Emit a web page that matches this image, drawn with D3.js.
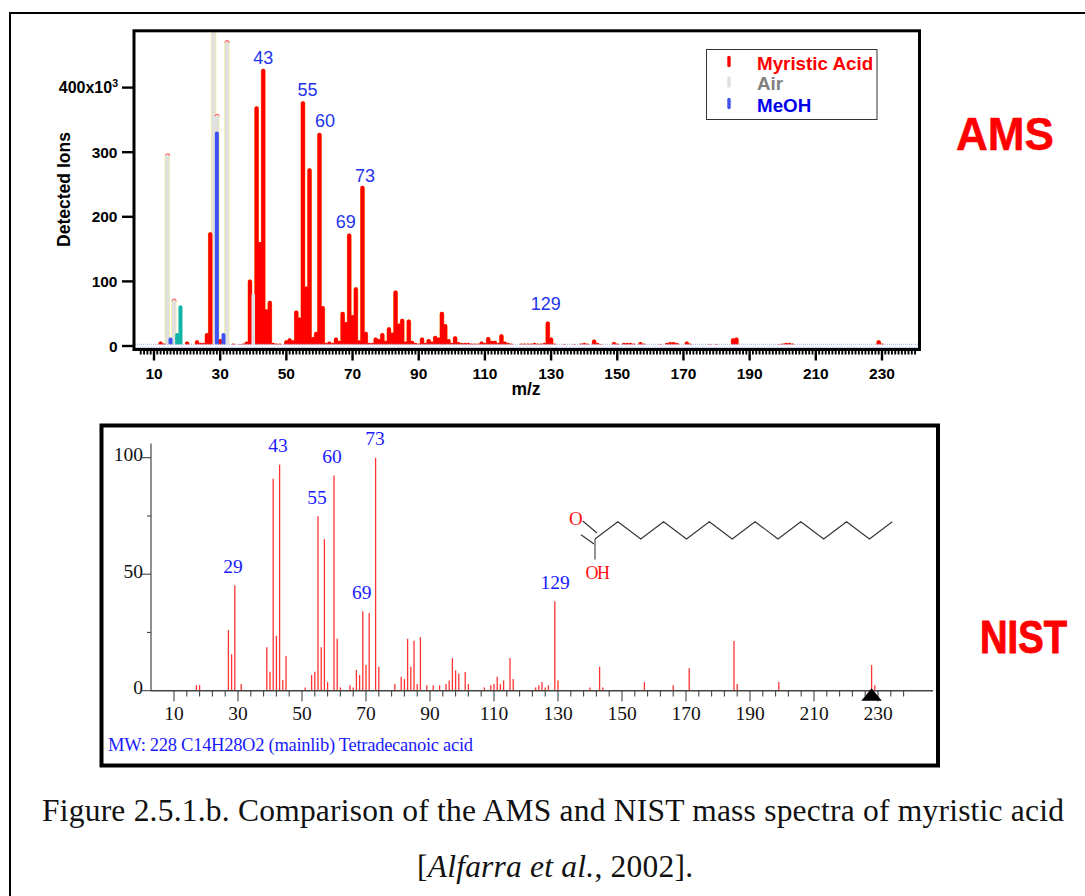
<!DOCTYPE html>
<html>
<head>
<meta charset="utf-8">
<script src="https://cdn.jsdelivr.net/npm/d3@7"></script>
<style>
  html, body { margin: 0; padding: 0; background: #fff; }
  svg { display: block; }
  .sans { font-family: "Liberation Sans", Arial, sans-serif; }
  .serif { font-family: "Liberation Serif", "Times New Roman", serif; }
</style>
</head>
<body>
<script>
// AMS spectrum, [m/z, detected ions]
const amsAcid = [[12,7],[13,4],[20,7],[23,9],[24,5],[25,5],[26,20],[27,176],[30,11],[34,4],[36,3],[37,4],[38,7],
  [39,103],[40,50],[41,371],[42,161],[43,429],[44,57],[45,70],[46,5],[47,4],[48,4],[50,9],[51,12],[52,9],[53,55],[54,44],
  [55,379],[56,92],[57,275],[58,14],[59,22],[60,330],[61,62],[62,5],[63,7],[64,5],[65,13],[66,8],[67,53],[68,37],[69,174],
  [70,48],[71,91],[72,9],[73,248],[74,22],[75,5],[76,5],[77,13],[78,11],[79,20],[80,8],[81,29],[82,21],[83,86],[84,35],
  [85,42],[86,7],[87,41],[88,8],[89,5],[90,4],[91,13],[92,5],[93,11],[94,7],[95,16],[96,13],[97,53],[98,34],[99,11],[100,5],
  [101,15],[102,6],[103,5],[104,5],[105,5],[106,4],[107,4],[108,4],[109,7],[110,5],[111,14],[112,8],[113,8],[114,5],[115,18],
  [116,7],[117,5],[118,4],[121,4],[122,4],[123,4],[124,4],[125,5],[126,4],[127,4],[128,5],[129,38],[130,13],[131,4],
  [134,3],[137,3],[139,4],[140,5],[141,4],[143,10],[144,5],[145,3],[149,6],[150,4],[152,5],[153,5],[154,5],[155,4],[157,6],[158,4],
  [163,3],[165,5],[166,6],[167,6],[168,5],[171,7],[172,4],[178,2],[180,2],[185,12],[186,13],[199,3],[200,4],[201,5],[202,5],[203,4],[229,9],[230,4]];
const amsAir = [[14,296],[16,71],[28,500],[29,357],[32,471],[40,80]];
const amsMeoh = [[15,13],[29,332],[31,20]];
const amsOther = [[17,20],[18,63]];
const amsPeaks = [43,55,60,69,73,129];
const amsYTicks = [0,100,200,300];
const legendNames = ["Myristic Acid","Air","MeOH"];

// NIST library spectrum, [m/z, relative intensity]
const nistBars = [[17,2.4],[18,2.4],[27,26],[28,15.6],[29,45.3],[31,2.9],[39,18.7],[40,8.1],[41,91],[42,23.6],[43,97],[44,4.6],
  [45,14.9],[51,1.4],[53,6.7],[54,8.1],[55,74.9],[56,18.7],[57,65],[58,3.7],[60,92.4],[61,22.3],[62,1.4],[65,2.3],[66,1.4],
  [67,8.9],[68,6.7],[69,34.1],[70,11],[71,33.3],[73,100],[74,10.3],[79,2.9],[81,6],[82,5],[83,22.3],[84,10.3],[85,21.4],[86,2.9],
  [87,23],[89,2.3],[91,2.3],[93,2.3],[95,2.9],[96,4.4],[97,14],[98,8.7],[99,7.4],[101,8],[102,2.9],[107,1.4],[109,2.3],[110,2.9],
  [111,6],[112,2.9],[113,4.4],[115,14],[116,5],[123,1.4],[124,2.3],[125,3.7],[126,1.4],[127,2.3],[129,38.4],[130,4.4],[140,1.4],
  [143,10.3],[144,1.4],[157,3.7],[166,2.3],[171,9.6],[185,21.3],[186,2.9],[199,3.7],[228,11],[229,2.3]];
const nistPeaks = [29,43,55,60,69,73,129];
const nistYLabels = [0,50,100];
const nistTitle = "MW: 228 C14H28O2 (mainlib) Tetradecanoic acid";

const width = 1085, height = 896;
const svg = d3.select("body").append("svg").attr("width", width).attr("height", height);

// page frame
svg.append("path").attr("d", "M10,896V13H1085").attr("fill", "none").attr("stroke", "#000").attr("stroke-width", 2);

function lookup(list, m) { return list.find(d => d[0] == m)[1]; }

// ---------- AMS panel ----------
function amsPanel() {
    let x = d3.scaleLinear().domain([10, 230]).range([154, 882]);
    let y = d3.scaleLinear().domain([0, 400]).range([346, 87.6]);
    let g = svg.append("g").attr("class", "sans");

    svg.append("clipPath").attr("id", "amsclip").append("rect")
        .attr("x", 134).attr("y", 31).attr("width", 785).attr("height", 318);
    let bars = g.append("g").attr("clip-path", "url(#amsclip)");

    function stems(list, color, w, cap) {
        let off = cap == "round" ? w / 2 : 0;
        bars.append("g").selectAll("line").data(list).join("line")
            .attr("x1", d => x(d[0])).attr("x2", d => x(d[0]))
            .attr("y1", y(0)).attr("y2", d => y(d[1]) + off)
            .attr("stroke", color).attr("stroke-width", w).attr("stroke-linecap", cap);
    }
    // air sits behind the rest, yellow edge and red tip like the original
    stems(amsAir, "#f4f0a4", 5.4, "butt");
    stems(amsAir, "#e0e0e0", 4, "butt");
    bars.append("g").selectAll("path").data(amsAir.filter(d => d[0] != 28 && d[0] != 40)).join("path")
        .attr("d", d => `M${x(d[0]) - 2},${y(d[1]) + 0.5}q1.5,-2 3,-1.5q1,0.5 1.5,2`)
        .attr("fill", "none").attr("stroke", "#f55").attr("stroke-width", 1.1);
    let acid = amsAcid.filter(d => d[0] != 40);
    stems(acid, "#ff8a1a", 4.7, "round");
    stems(acid, "#ff0000", 3.9, "round");
    stems(amsAir.filter(d => d[0] == 40), "#e0e0e0", 3.6, "butt");
    stems(amsMeoh, "#3f51f0", 4, "round");
    stems(amsOther, "#12b5a5", 4, "round");

    // baseline band: dotted blue over the foot of the bars, pale solid under it
    g.append("rect").attr("x", 135).attr("y", 344.5).attr("width", 783).attr("height", 4).attr("fill", "#fff");
    g.append("line").attr("x1", 135).attr("x2", 918).attr("y1", 344.3).attr("y2", 344.3)
        .attr("stroke", "#aab4ee").attr("stroke-width", 1).attr("stroke-dasharray", "1 1");
    g.append("line").attr("x1", 135).attr("x2", 918).attr("y1", 347.3).attr("y2", 347.3)
        .attr("stroke", "#c4ccf4").attr("stroke-width", 1);

    g.append("rect").attr("x", 134).attr("y", 30.8).attr("width", 785.5).attr("height", 318.7)
        .attr("fill", "none").attr("stroke", "#000").attr("stroke-width", 3);

    // x axis: one short tick per unit, long every 20
    let xAxis = g.append("g");
    xAxis.selectAll("line").data(d3.range(6, 241)).join("line")
        .attr("x1", d => x(d)).attr("x2", d => x(d))
        .attr("y1", 350).attr("y2", d => (d - 10) % 20 == 0 ? 360.5 : 354.5)
        .attr("stroke", "#000").attr("stroke-width", d => (d - 10) % 20 == 0 ? 2.4 : 1.9);
    xAxis.selectAll("text").data(d3.range(10, 231, 20)).join("text")
        .attr("x", d => x(d)).attr("y", 379).attr("text-anchor", "middle")
        .attr("font-size", 15.5).attr("font-weight", "bold").text(d => d);
    g.append("text").attr("x", 526).attr("y", 395).attr("text-anchor", "middle")
        .attr("font-size", 17.5).attr("font-weight", "bold").text("m/z");

    // y axis
    let yAxis = g.append("g");
    yAxis.selectAll("line").data(amsYTicks.concat([400])).join("line")
        .attr("x1", 122).attr("x2", 133).attr("y1", d => y(d)).attr("y2", d => y(d))
        .attr("stroke", "#000").attr("stroke-width", 2.4);
    yAxis.selectAll("text").data(amsYTicks).join("text")
        .attr("x", 117.5).attr("y", d => y(d) + 5.5).attr("text-anchor", "end")
        .attr("font-size", 15.5).attr("font-weight", "bold").text(d => d);
    let top = yAxis.append("text").attr("x", 118).attr("y", y(400) + 5.5).attr("text-anchor", "end")
        .attr("font-size", 16).attr("font-weight", "bold");
    top.append("tspan").text("400x10");
    top.append("tspan").attr("font-size", 10.5).attr("dy", -6).text("3");
    g.append("text").attr("transform", "translate(69.5,189.5) rotate(-90)").attr("text-anchor", "middle")
        .attr("font-size", 17.5).attr("font-weight", "bold").text("Detected Ions");

    // peak labels, nudged away from neighbouring bars
    let nudge = { 43: [0, -5], 55: [4.5, -5], 60: [5.5, -6], 69: [-3.5, -5.5], 73: [2.5, -4], 129: [-2, -11.5] };
    g.append("g").selectAll("text").data(amsPeaks).join("text")
        .attr("x", d => x(d) + nudge[d][0]).attr("y", d => y(lookup(amsAcid, d)) + nudge[d][1])
        .attr("text-anchor", "middle").attr("font-size", 18).attr("fill", "#2233ee").text(d => d);

    // legend
    let legend = g.append("g");
    legend.append("rect").attr("x", 706.5).attr("y", 49.5).attr("width", 170.5).attr("height", 70)
        .attr("fill", "#fff").attr("stroke", "#333").attr("stroke-width", 1);
    let colors = ["#ff0000", "#e0e0e0", "#3f51f0"], textColors = ["#ff0000", "#808080", "#0000ee"];
    let rows = legend.selectAll("g").data(legendNames).join("g")
        .attr("transform", (d, i) => `translate(0,${[69.5, 90, 111.5][i]})`);
    rows.append("line").attr("x1", 729).attr("x2", 729).attr("y1", -12).attr("y2", -4)
        .attr("stroke", (d, i) => colors[i]).attr("stroke-width", 3.4).attr("stroke-linecap", "round");
    rows.append("text").attr("x", 757).attr("font-size", 18.8).attr("font-weight", "bold")
        .attr("fill", (d, i) => textColors[i]).text(d => d);
}

// ---------- NIST panel ----------
function nistPanel() {
    let x = d3.scaleLinear().domain([10, 230]).range([174, 878]);
    let y = d3.scaleLinear().domain([0, 100]).range([690.7, 457.7]);
    let g = svg.append("g").attr("class", "serif");
    let axisColor = "#444";

    g.append("rect").attr("x", 101.5).attr("y", 425.5).attr("width", 836.5).attr("height", 340)
        .attr("fill", "none").attr("stroke", "#000").attr("stroke-width", 4);

    g.append("g").selectAll("line").data(nistBars).join("line")
        .attr("x1", d => x(d[0])).attr("x2", d => x(d[0]))
        .attr("y1", y(0)).attr("y2", d => y(d[1]))
        .attr("stroke", "#f33").attr("stroke-width", 1.3);

    g.append("line").attr("x1", 151).attr("x2", 151).attr("y1", 443.5).attr("y2", 691)
        .attr("stroke", axisColor).attr("stroke-width", 1.2);
    g.append("line").attr("x1", 151).attr("x2", 933).attr("y1", 690.7).attr("y2", 690.7)
        .attr("stroke", axisColor).attr("stroke-width", 1.4);

    g.append("g").selectAll("line").data(d3.range(10, 239, 4)).join("line")
        .attr("x1", d => x(d)).attr("x2", d => x(d))
        .attr("y1", 690.7).attr("y2", d => (d - 10) % 20 == 0 ? 701.5 : 696.5)
        .attr("stroke", axisColor).attr("stroke-width", 1.1);
    g.append("g").selectAll("text").data(d3.range(10, 231, 20)).join("text")
        .attr("x", d => x(d)).attr("y", 720).attr("text-anchor", "middle")
        .attr("font-size", 19.5).attr("fill", "#111").text(d => d);

    g.append("g").selectAll("line").data([0, 25, 50, 75, 100]).join("line")
        .attr("x1", d => d % 50 == 0 ? 142 : 147).attr("x2", 151)
        .attr("y1", d => y(d)).attr("y2", d => y(d))
        .attr("stroke", axisColor).attr("stroke-width", 1.1);
    g.append("g").selectAll("text").data(nistYLabels).join("text")
        .attr("x", 143).attr("y", d => y(d) + 3.5).attr("text-anchor", "end")
        .attr("font-size", 19.5).attr("fill", "#111").text(d => d);

    // molecular weight marker
    g.append("path").attr("d", d3.symbol(d3.symbolTriangle, 100)())
        .attr("transform", `translate(${x(228)},696.5) scale(1.35,0.95)`).attr("fill", "#000");

    let spots = { 29: [233, 573], 43: [278, 452], 55: [317, 504], 60: [332, 463], 69: [361.7, 599], 73: [375, 445], 129: [555, 589] };
    g.append("g").selectAll("text").data(nistPeaks).join("text")
        .attr("x", d => spots[d][0]).attr("y", d => spots[d][1]).attr("text-anchor", "middle")
        .attr("font-size", 19.5).attr("fill", "#1a1aff").text(d => d);

    g.append("text").attr("x", 108).attr("y", 751).attr("font-size", 18.5).attr("fill", "#1a1aff")
        .attr("textLength", 365).attr("lengthAdjust", "spacing").text(nistTitle);

    // structure: zigzag chain from the carboxyl carbon
    let chain = d3.range(14).map(i => [595 + i * (892.3 - 595) / 13, i % 2 == 0 ? 539 : 521.7]);
    g.append("path").attr("d", d3.line()(chain)).attr("fill", "none").attr("stroke", "#333").attr("stroke-width", 1.1);
    g.append("path").attr("d", "M582.7,521L597,533M581,534.7L594,544").attr("stroke", "#333").attr("stroke-width", 1.1);
    g.append("path").attr("d", "M595,539V559.5").attr("stroke", "#666").attr("stroke-width", 1.4);
    g.append("text").attr("x", 569).attr("y", 525).attr("font-size", 19).attr("fill", "#ff1010").text("O");
    g.append("text").attr("x", 585.5).attr("y", 579).attr("font-size", 18).attr("fill", "#ff1010")
        .attr("textLength", 24.5).attr("lengthAdjust", "spacing").text("OH");
}

amsPanel();
nistPanel();

// big panel names
svg.append("text").attr("class", "sans").attr("x", 956).attr("y", 150).attr("font-size", 46).attr("font-weight", "bold")
    .attr("fill", "#ff0000").attr("stroke", "#ff0000").attr("stroke-width", 0.5)
    .attr("textLength", 98).attr("lengthAdjust", "spacingAndGlyphs").text("AMS");
svg.append("text").attr("class", "sans").attr("x", 980).attr("y", 653).attr("font-size", 46).attr("font-weight", "bold")
    .attr("fill", "#ff0000").attr("stroke", "#ff0000").attr("stroke-width", 1)
    .attr("textLength", 87).attr("lengthAdjust", "spacingAndGlyphs").text("NIST");

// caption
let cap = svg.append("g").attr("class", "serif").attr("font-size", 31.5).attr("fill", "#111");
cap.append("text").attr("x", 42).attr("y", 821).attr("textLength", 1022).attr("lengthAdjust", "spacing")
    .text("Figure 2.5.1.b. Comparison of the AMS and NIST mass spectra of myristic acid");
let cap2 = cap.append("text").attr("x", 417).attr("y", 877).attr("textLength", 276).attr("lengthAdjust", "spacing");
cap2.append("tspan").text("[");
cap2.append("tspan").attr("font-style", "italic").text("Alfarra et al.");
cap2.append("tspan").text(", 2002].");
</script>
</body>
</html>
